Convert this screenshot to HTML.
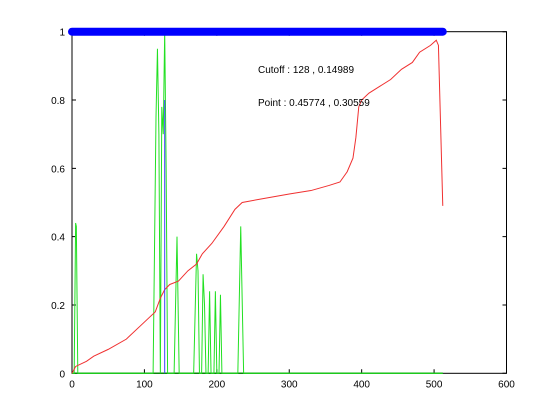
<!DOCTYPE html>
<html><head><meta charset="utf-8"><style>
body{margin:0;background:#fff}
svg{display:block;font-family:"Liberation Sans",sans-serif}
</style></head><body>
<svg id="chart" width="560" height="420" xmlns="http://www.w3.org/2000/svg">
<rect width="560" height="420" fill="#fff"/>
<g id="grid"></g>
<g id="marks"></g>
<text x="258" y="73" font-size="10" fill="#000">Cutoff : 128 , 0.14989</text>
<text x="258" y="106" font-size="10" fill="#000">Point : 0.45774 , 0.30559</text>
</svg>
<script>
const xTicks=[0,100,200,300,400,500,600];
const yTicks=[0,0.2,0.4,0.6,0.8,1];
const yTickLabels=["0","0.2","0.4","0.6","0.8","1"];
const greenX=[0,3,5,6,8,112,116,118,120,122,124,126,128,130,132,141,145,148,168,172,174,176,179,181,183,185,188,190,192,196,198,200,203,205,207,229,233,237,512];
const greenY=[0,0,0.44,0.43,0,0,0.75,0.95,0.7,0,0.78,0.7,1.0,0.6,0,0,0.40,0,0,0.35,0.3,0,0,0.29,0.2,0,0,0.24,0,0,0.24,0,0,0.23,0,0,0.43,0,0];
const redX=[0,5,20,30,50,75,100,115,122,128,135,147,160,172,180,193,210,225,235,260,300,330,355,370,380,388,392,396,400,410,425,440,455,470,480,495,503,506,512];
const redY=[0,0.02,0.035,0.05,0.07,0.1,0.15,0.18,0.22,0.245,0.26,0.27,0.3,0.32,0.35,0.38,0.43,0.48,0.5,0.51,0.525,0.535,0.55,0.56,0.59,0.63,0.69,0.78,0.8,0.82,0.84,0.86,0.89,0.91,0.94,0.96,0.975,0.96,0.49];
const cutoffX=128, cutoffY=0.8;
const dotStart=0, dotEnd=512, dotY=1;
const NS="http://www.w3.org/2000/svg";
const X0=72,X1=506.5,Y0=373.3,Y1=31.7;
const sx=v=>X0+(v/600)*(X1-X0);
const sy=v=>Y0-v*(Y0-Y1);
function mk(tag,attrs,parent){const e=document.createElementNS(NS,tag);for(const k in attrs)e.setAttribute(k,attrs[k]);parent.appendChild(e);return e;}
const g=document.getElementById('grid'),m=document.getElementById('marks');
const box=mk('rect',{x:X0,y:Y1,width:X1-X0,height:Y0-Y1,fill:'none',stroke:'#000','stroke-width':1},g);


xTicks.forEach(t=>{
  const x=sx(t);
  const l=mk('path',{d:`M${x},${Y0}v-4M${x},${Y1}v4`,stroke:'#000'},g);
  
  
  const tx=mk('text',{x:x,y:Y0+14,'font-size':10,'text-anchor':'middle'},g);
  tx.textContent=String(t);
  
  
});
yTicks.forEach((t,i)=>{
  const y=sy(t);
  const l=mk('path',{d:`M${X0},${y}h4M${X1},${y}h-4`,stroke:'#000'},g);
  
  
  const tx=mk('text',{x:X0-7,y:y+4,'font-size':10,'text-anchor':'end'},g);
  tx.textContent=yTickLabels[i];
  
  
});
const base=mk('line',{x1:sx(0),x2:sx(dotEnd),y1:sy(0),y2:sy(0),stroke:'#0a8a0a','stroke-width':1.5},m);


const gp=mk('polyline',{points:greenX.map((x,i)=>sx(x)+','+sy(greenY[i])).join(' '),fill:'none',stroke:'#22e022','stroke-width':1},m);


const rp=mk('polyline',{points:redX.map((x,i)=>sx(x)+','+sy(redY[i])).join(' '),fill:'none',stroke:'#f03030','stroke-width':1},m);


const cl=mk('line',{x1:sx(cutoffX),x2:sx(cutoffX),y1:sy(0),y2:sy(cutoffY),stroke:'#4040ff','stroke-width':1},m);


const dots=mk('line',{x1:sx(dotStart),x2:sx(dotEnd),y1:sy(dotY),y2:sy(dotY),stroke:'#0000ff','stroke-width':8,'stroke-linecap':'round'},m);


</script>
</body></html>
